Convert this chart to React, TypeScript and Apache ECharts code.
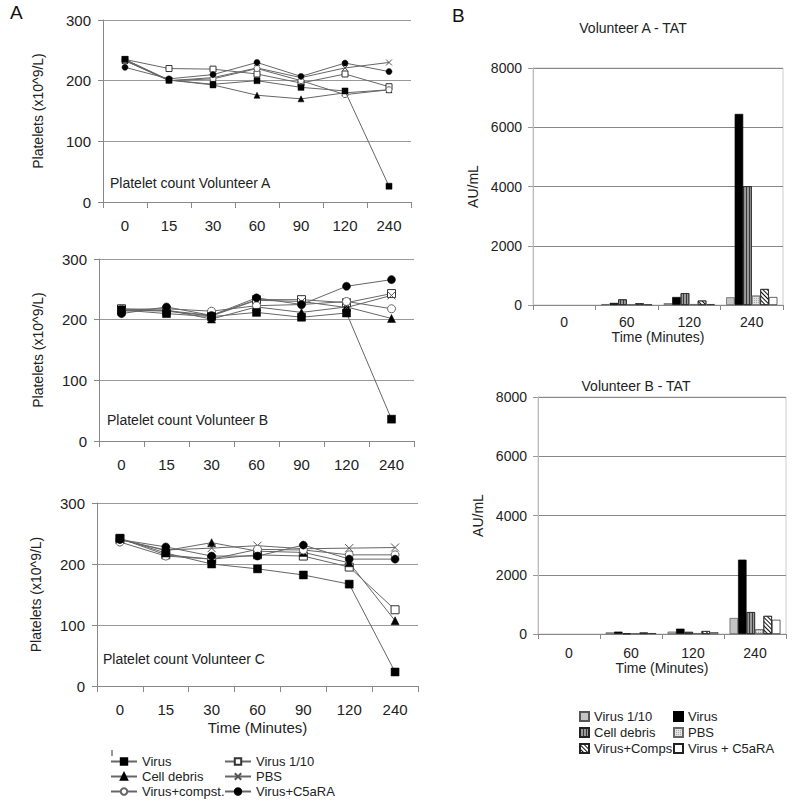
import React, { useEffect, useRef } from 'react';
import * as echarts from 'echarts';

const FONT = '"Liberation Sans", Arial, sans-serif';

// ---------- Panel A: platelet counts ----------
const timeCats = ['0', '15', '30', '60', '90', '120', '240'];
const lineNames = ['Virus', 'Virus 1/10', 'Cell debris', 'PBS', 'Virus+compst.', 'Virus+C5aRA'];

const aVirus = [235, 201, 194, 200, 189, 183, 26];
const aVirus110 = [235, 220, 219, 211, 196, 211, 190];
const aDebris = [233, 201, 193, 176, 170, 180, 185];
const aPBS = [235, 200, 205, 221, 205, 221, 230];
const aCompst = [233, 200, 203, 220, 200, 177, 185];
const aC5a = [222, 203, 210, 230, 207, 229, 215];

const bVirus = [216, 210, 205, 212, 204, 211, 36];
const bVirus110 = [218, 215, 207, 233, 233, 228, 243];
const bDebris = [214, 216, 201, 221, 212, 221, 202];
const bPBS = [216, 214, 206, 232, 230, 220, 240];
const bCompst = [217, 218, 214, 223, 225, 230, 218];
const bC5a = [210, 221, 207, 236, 225, 255, 266];

const cVirus = [242, 218, 200, 192, 182, 167, 23];
const cVirus110 = [242, 215, 208, 215, 213, 195, 125];
const cDebris = [240, 222, 235, 221, 219, 202, 107];
const cPBS = [240, 223, 226, 230, 225, 226, 227];
const cCompst = [236, 213, 208, 224, 223, 215, 215];
const cC5a = [240, 228, 213, 213, 231, 208, 208];

const panelTitles = ['Platelet count Volunteer A', 'Platelet count Volunteer B', 'Platelet count Volunteer C'];

// ---------- Panel B: TAT ----------
const tatCats = ['0', '60', '120', '240'];
const barNames = ['Virus 1/10', 'Virus', 'Cell debris', 'PBS', 'Virus+Comps', 'Virus + C5aRA'];

const tatA_v110 = [0, 30, 60, 260];
const tatA_virus = [0, 70, 270, 6450];
const tatA_debris = [0, 190, 400, 4010];
const tatA_pbs = [0, 20, 30, 315];
const tatA_comps = [0, 60, 150, 540];
const tatA_c5a = [0, 20, 30, 270];

const tatB_v110 = [0, 55, 80, 540];
const tatB_virus = [0, 80, 180, 2510];
const tatB_debris = [0, 20, 70, 740];
const tatB_pbs = [0, 20, 30, 160];
const tatB_comps = [0, 50, 100, 610];
const tatB_c5a = [0, 30, 60, 480];

const tatTitles = ['Volunteer A - TAT', 'Volunteer B - TAT'];

// legend layout: columns of names
const lineLegendOrder = [['Virus', 'Cell debris', 'Virus+compst.'], ['Virus 1/10', 'PBS', 'Virus+C5aRA']];
const barLegendOrder = [['Virus 1/10', 'Cell debris', 'Virus+Comps'], ['Virus', 'PBS', 'Virus + C5aRA']];

const lineStyles: any[] = [
  { symbol: 'rect', itemStyle: { color: '#000', borderColor: '#000', borderWidth: 0.5 } },
  { symbol: 'rect', itemStyle: { color: '#fff', borderColor: '#333', borderWidth: 1 } },
  { symbol: 'triangle', itemStyle: { color: '#000', borderColor: '#000', borderWidth: 0.5 } },
  { symbol: 'path://M0,0L10,10M10,0L0,10', itemStyle: { color: 'rgba(0,0,0,0)', borderColor: '#555', borderWidth: 1 } },
  { symbol: 'circle', itemStyle: { color: '#fff', borderColor: '#666', borderWidth: 1 } },
  { symbol: 'circle', itemStyle: { color: '#000', borderColor: '#000', borderWidth: 0.5 } },
];

const barStyles: any[] = [
  { color: '#c4c4c4', borderColor: '#555', borderWidth: 0.7 },
  { color: '#000', borderColor: '#000', borderWidth: 0.7 },
  {
    color: '#9a9a9a', borderColor: '#222', borderWidth: 0.7,
    decal: { symbol: 'rect', symbolSize: 1, color: '#3a3a3a', dashArrayX: [1, 1.5], dashArrayY: [10, 0], rotation: 0 },
  },
  {
    color: '#e2e2e2', borderColor: '#666', borderWidth: 0.7,
    decal: { symbol: 'rect', symbolSize: 1, color: '#a8a8a8', dashArrayX: [1, 1], dashArrayY: [1, 1], rotation: 0 },
  },
  {
    color: '#fff', borderColor: '#222', borderWidth: 0.7,
    decal: { symbol: 'rect', symbolSize: 1, color: '#111', dashArrayX: [1, 0], dashArrayY: [1, 2], rotation: Math.PI / 4 },
  },
  { color: '#fff', borderColor: '#222', borderWidth: 0.7 },
];

function makeLegends(order: string[][], lefts: number[], tops: number[], extra: any): any[] {
  const out: any[] = [];
  order.forEach((col, c) => {
    col.forEach((name, r) => {
      out.push({
        orient: 'horizontal',
        left: lefts[c],
        top: tops[r],
        padding: 0,
        data: [name],
        selectedMode: false,
        ...extra,
      });
    });
  });
  return out;
}

function leftOption(): any {
  const grids = [
    { left: 103, top: 20, width: 308, height: 182 },
    { left: 99, top: 259, width: 315, height: 182 },
    { left: 97, top: 503, width: 321, height: 183 },
  ];
  const nameGaps = [58, 54, 54];
  const data = [
    [aVirus, aVirus110, aDebris, aPBS, aCompst, aC5a],
    [bVirus, bVirus110, bDebris, bPBS, bCompst, bC5a],
    [cVirus, cVirus110, cDebris, cPBS, cCompst, cC5a],
  ];
  const symSizes = [6, 8, 8];
  const titlePos = [[110, 183], [107, 420], [103, 659]];
  const series: any[] = [];
  data.forEach((panel, p) => {
    panel.forEach((vals, i) => {
      series.push({
        type: 'line',
        name: lineNames[i],
        xAxisIndex: p,
        yAxisIndex: p,
        data: vals,
        symbol: lineStyles[i].symbol,
        symbolSize: symSizes[p],
        showSymbol: true,
        itemStyle: lineStyles[i].itemStyle,
        lineStyle: { color: '#666', width: 1 },
        emphasis: { disabled: true },
        z: 2 + (i === 0 ? 1 : 0),
      });
    });
  });
  return {
    animation: false,
    textStyle: { fontFamily: FONT },
    grid: grids,
    xAxis: grids.map((_, i) => ({
      type: 'category',
      gridIndex: i,
      data: timeCats,
      boundaryGap: true,
      axisLine: { lineStyle: { color: '#888' } },
      axisTick: { show: true, length: 6, lineStyle: { color: '#888' } },
      axisLabel: { fontSize: 15, color: '#222', margin: 16, fontFamily: FONT },
      splitLine: { show: false },
      name: i === 2 ? 'Time (Minutes)' : '',
      nameLocation: 'middle',
      nameGap: 34,
      nameTextStyle: { fontSize: 15, color: '#222', fontFamily: FONT },
    })),
    yAxis: grids.map((_, i) => ({
      type: 'value',
      gridIndex: i,
      min: 0,
      max: 300,
      interval: 100,
      axisLine: { show: true, lineStyle: { color: '#888' } },
      axisTick: { show: true, length: 5, lineStyle: { color: '#888' } },
      axisLabel: { fontSize: 15, color: '#222', margin: 12, fontFamily: FONT },
      splitLine: { show: true, lineStyle: { color: '#999', width: 1 } },
      name: 'Platelets (x10^9/L)',
      nameLocation: 'middle',
      nameGap: nameGaps[i],
      nameTextStyle: { fontSize: 14, color: '#222', fontFamily: FONT },
    })),
    legend: makeLegends(lineLegendOrder, [110, 224], [755, 770, 785], {
      itemWidth: 26,
      itemHeight: 8,
      textStyle: { fontSize: 13, color: '#222', fontFamily: FONT },
    }),
    graphic: [
      { type: 'text', x: 10, y: 12, style: { text: 'A', fontSize: 19, fill: '#111', fontFamily: FONT, textVerticalAlign: 'middle' } },
      ...panelTitles.map((t, i) => ({
        type: 'text', x: titlePos[i][0], y: titlePos[i][1],
        style: { text: t, fontSize: 14, fill: '#222', fontFamily: FONT, textVerticalAlign: 'middle' },
      })),
      { type: 'line', shape: { x1: 112, y1: 750, x2: 112, y2: 756 }, style: { stroke: '#333', lineWidth: 1 } },
    ],
    series,
  };
}

function rightOption(): any {
  const grids = [
    { left: 93, top: 68, width: 250, height: 237, show: true, borderColor: '#ccc', borderWidth: 1 },
    { left: 98, top: 397, width: 248, height: 237, show: true, borderColor: '#ccc', borderWidth: 1 },
  ];
  const data = [
    [tatA_v110, tatA_virus, tatA_debris, tatA_pbs, tatA_comps, tatA_c5a],
    [tatB_v110, tatB_virus, tatB_debris, tatB_pbs, tatB_comps, tatB_c5a],
  ];
  const series: any[] = [];
  data.forEach((panel, p) => {
    panel.forEach((vals, i) => {
      series.push({
        type: 'bar',
        name: barNames[i],
        xAxisIndex: p,
        yAxisIndex: p,
        data: vals.map((v) => (v === 0 ? { value: v, itemStyle: { borderWidth: 0 } } : v)),
        barGap: '0%',
        barCategoryGap: '18%',
        itemStyle: barStyles[i],
        emphasis: { disabled: true },
      });
    });
  });
  const nameGapsY = [41, 48];
  const marginsX = [10, 12];
  const titleY = [28, 386];
  const titleX = [193, 196];
  return {
    animation: false,
    textStyle: { fontFamily: FONT },
    grid: grids,
    xAxis: grids.map((_, i) => ({
      type: 'category',
      gridIndex: i,
      data: tatCats,
      axisLine: { lineStyle: { color: '#888' } },
      axisTick: { show: true, length: 5, lineStyle: { color: '#888' } },
      axisLabel: { fontSize: 14, color: '#222', margin: marginsX[i], fontFamily: FONT },
      name: 'Time (Minutes)',
      nameLocation: 'middle',
      nameGap: 24,
      nameTextStyle: { fontSize: 14, color: '#222', fontFamily: FONT },
    })),
    yAxis: grids.map((_, i) => ({
      type: 'value',
      gridIndex: i,
      min: 0,
      max: 8000,
      interval: 2000,
      axisLine: { show: true, lineStyle: { color: '#bbb' } },
      axisTick: { show: true, length: 5, lineStyle: { color: '#999' } },
      axisLabel: { fontSize: 14, color: '#222', margin: 11, fontFamily: FONT, formatter: (v: number) => String(v) },
      splitLine: { show: true, lineStyle: { color: '#888', width: 1 } },
      name: 'AU/mL',
      nameLocation: 'middle',
      nameGap: nameGapsY[i],
      nameTextStyle: { fontSize: 14, color: '#222', fontFamily: FONT },
    })),
    legend: makeLegends(barLegendOrder, [139, 233], [710, 726, 742], {
      itemWidth: 9,
      itemHeight: 9,
      icon: 'rect',
      textStyle: { fontSize: 13, color: '#222', fontFamily: FONT },
    }),
    graphic: [
      { type: 'text', x: 12, y: 15, style: { text: 'B', fontSize: 19, fill: '#111', fontFamily: FONT, textVerticalAlign: 'middle' } },
      ...tatTitles.map((t, i) => ({
        type: 'text', x: titleX[i], y: titleY[i],
        style: { text: t, fontSize: 14, fill: '#222', fontFamily: FONT, textAlign: 'center', textVerticalAlign: 'middle' },
      })),
    ],
    series,
  };
}

export default function App() {
  const leftRef = useRef<HTMLDivElement>(null);
  const rightRef = useRef<HTMLDivElement>(null);
  useEffect(() => {
    document.body.style.margin = '0';
    const l = echarts.init(leftRef.current!, null, { renderer: 'svg' });
    const r = echarts.init(rightRef.current!, null, { renderer: 'svg' });
    l.setOption(leftOption());
    r.setOption(rightOption());
    return () => {
      l.dispose();
      r.dispose();
    };
  }, []);
  return (
    <div style={{ position: 'relative', width: 794, height: 803, background: '#fff' }}>
      <div ref={leftRef} style={{ position: 'absolute', left: 0, top: 0, width: 440, height: 803 }} />
      <div ref={rightRef} style={{ position: 'absolute', left: 440, top: 0, width: 354, height: 803 }} />
    </div>
  );
}
